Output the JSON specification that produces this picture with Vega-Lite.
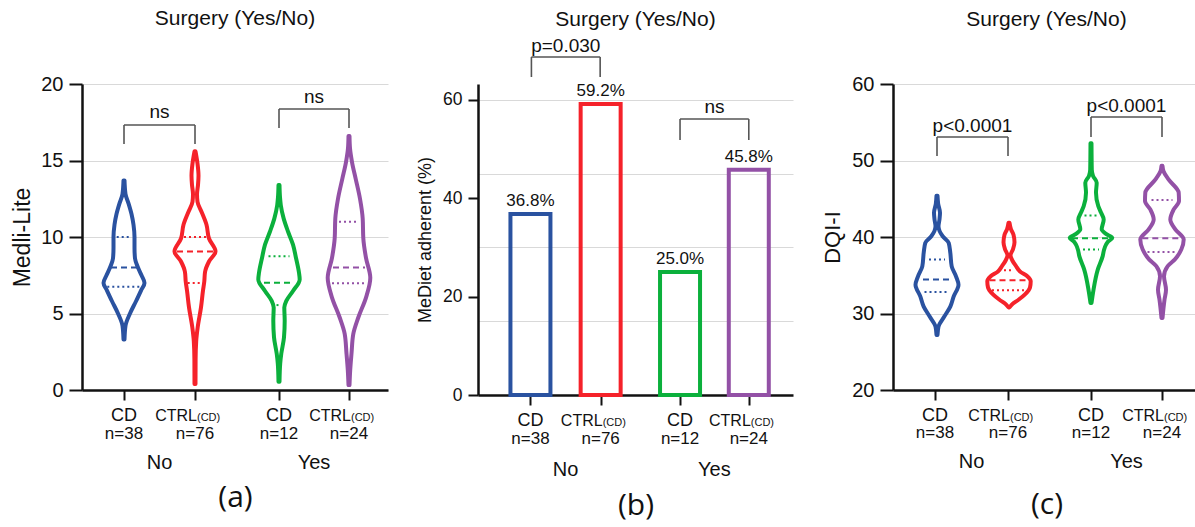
{
"$schema": "https://vega.github.io/schema/vega-lite/v6.json",
"padding": {"left": 11, "top": 8, "right": 0, "bottom": 10},
"spacing": 28,
"config": {
  "view": {"stroke": null},
  "font": "Liberation Sans",
  "title": {"fontSize": 21, "fontWeight": "normal", "font": "Liberation Sans", "color": "#111", "anchor": "middle", "frame": "group"},
  "axis": {"domainColor": "#111", "domainWidth": 2.5, "tickColor": "#111", "tickWidth": 2, "labelColor": "#111", "titleColor": "#111", "titleFontWeight": "normal", "gridColor": "#d9d9d9", "gridWidth": 1, "labelFont": "Liberation Sans", "titleFont": "Liberation Sans"},
  "text": {"color": "#111", "font": "Liberation Sans"}
},
"datasets": {
  "violin": [
    {"p":"a","g":"CD-No","v":3.3,"xl":41.5,"xr":42.5},{"p":"a","g":"CD-No","v":4.2,"xl":40.5,"xr":43.5},{"p":"a","g":"CD-No","v":5.0,"xl":36,"xr":48},{"p":"a","g":"CD-No","v":5.8,"xl":30,"xr":54},{"p":"a","g":"CD-No","v":6.5,"xl":25,"xr":59},{"p":"a","g":"CD-No","v":7.0,"xl":21.5,"xr":62.5},{"p":"a","g":"CD-No","v":7.5,"xl":24.5,"xr":59.5},{"p":"a","g":"CD-No","v":8.0,"xl":28,"xr":56},{"p":"a","g":"CD-No","v":8.6,"xl":31,"xr":53},{"p":"a","g":"CD-No","v":9.3,"xl":31.5,"xr":52.5},{"p":"a","g":"CD-No","v":10.0,"xl":31.5,"xr":52.5},{"p":"a","g":"CD-No","v":10.8,"xl":32.5,"xr":51.5},{"p":"a","g":"CD-No","v":11.5,"xl":34.5,"xr":49.5},{"p":"a","g":"CD-No","v":12.2,"xl":37.5,"xr":46.5},{"p":"a","g":"CD-No","v":12.8,"xl":40.5,"xr":43.5},{"p":"a","g":"CD-No","v":13.7,"xl":41.5,"xr":42.5},
    {"p":"a","g":"CTRL-No","v":0.4,"xl":112.5,"xr":113.5},{"p":"a","g":"CTRL-No","v":2.0,"xl":112.4,"xr":113.6},{"p":"a","g":"CTRL-No","v":3.2,"xl":111.8,"xr":114.2},{"p":"a","g":"CTRL-No","v":4.1,"xl":110.3,"xr":115.7},{"p":"a","g":"CTRL-No","v":5.4,"xl":107,"xr":119},{"p":"a","g":"CTRL-No","v":6.5,"xl":105,"xr":121},{"p":"a","g":"CTRL-No","v":7.1,"xl":103.7,"xr":122.3},{"p":"a","g":"CTRL-No","v":7.7,"xl":103,"xr":123},{"p":"a","g":"CTRL-No","v":8.4,"xl":99,"xr":127},{"p":"a","g":"CTRL-No","v":9.06,"xl":92.5,"xr":133.5},{"p":"a","g":"CTRL-No","v":9.9,"xl":99,"xr":127},{"p":"a","g":"CTRL-No","v":10.8,"xl":101.5,"xr":124.5},{"p":"a","g":"CTRL-No","v":11.65,"xl":106.5,"xr":119.5},{"p":"a","g":"CTRL-No","v":12.3,"xl":110.5,"xr":115.5},{"p":"a","g":"CTRL-No","v":12.8,"xl":111,"xr":115},{"p":"a","g":"CTRL-No","v":13.4,"xl":110,"xr":116},{"p":"a","g":"CTRL-No","v":14.0,"xl":109.5,"xr":116.5},{"p":"a","g":"CTRL-No","v":14.8,"xl":110.5,"xr":115.5},{"p":"a","g":"CTRL-No","v":15.6,"xl":112.5,"xr":113.5},
    {"p":"a","g":"CD-Yes","v":0.54,"xl":196.5,"xr":197.5},{"p":"a","g":"CD-Yes","v":1.73,"xl":195.8,"xr":198.2},{"p":"a","g":"CD-Yes","v":2.38,"xl":194.7,"xr":199.3},{"p":"a","g":"CD-Yes","v":3.45,"xl":192,"xr":202},{"p":"a","g":"CD-Yes","v":4.53,"xl":191.3,"xr":202.7},{"p":"a","g":"CD-Yes","v":5.39,"xl":191.7,"xr":202.3},{"p":"a","g":"CD-Yes","v":5.83,"xl":189.7,"xr":204.3},{"p":"a","g":"CD-Yes","v":6.47,"xl":183,"xr":211},{"p":"a","g":"CD-Yes","v":7.23,"xl":176.3,"xr":217.7},{"p":"a","g":"CD-Yes","v":7.66,"xl":177,"xr":217},{"p":"a","g":"CD-Yes","v":8.63,"xl":180,"xr":214},{"p":"a","g":"CD-Yes","v":9.5,"xl":183,"xr":211},{"p":"a","g":"CD-Yes","v":10.36,"xl":188,"xr":206},{"p":"a","g":"CD-Yes","v":11.2,"xl":192.3,"xr":201.7},{"p":"a","g":"CD-Yes","v":12.08,"xl":195.2,"xr":198.8},{"p":"a","g":"CD-Yes","v":12.6,"xl":196,"xr":198},{"p":"a","g":"CD-Yes","v":13.4,"xl":196.5,"xr":197.5},
    {"p":"a","g":"CTRL-Yes","v":0.32,"xl":266.5,"xr":267.5},{"p":"a","g":"CTRL-Yes","v":1.3,"xl":265.8,"xr":268.2},{"p":"a","g":"CTRL-Yes","v":2.38,"xl":264.5,"xr":269.5},{"p":"a","g":"CTRL-Yes","v":3.67,"xl":262.7,"xr":271.3},{"p":"a","g":"CTRL-Yes","v":4.74,"xl":257.7,"xr":276.3},{"p":"a","g":"CTRL-Yes","v":6.04,"xl":250,"xr":284},{"p":"a","g":"CTRL-Yes","v":7.33,"xl":245.7,"xr":288.3},{"p":"a","g":"CTRL-Yes","v":8.63,"xl":250,"xr":284},{"p":"a","g":"CTRL-Yes","v":9.92,"xl":252.7,"xr":281.3},{"p":"a","g":"CTRL-Yes","v":11.2,"xl":253.3,"xr":280.7},{"p":"a","g":"CTRL-Yes","v":12.5,"xl":256,"xr":278},{"p":"a","g":"CTRL-Yes","v":13.8,"xl":260.3,"xr":273.7},{"p":"a","g":"CTRL-Yes","v":14.9,"xl":264,"xr":270},{"p":"a","g":"CTRL-Yes","v":15.8,"xl":266,"xr":268},{"p":"a","g":"CTRL-Yes","v":16.6,"xl":266.5,"xr":267.5},
    {"p":"c","g":"CD-No","v":27.2,"xl":43.5,"xr":44.5},{"p":"c","g":"CD-No","v":28.3,"xl":42.5,"xr":45.5},{"p":"c","g":"CD-No","v":29.6,"xl":36.7,"xr":51.3},{"p":"c","g":"CD-No","v":30.9,"xl":30.7,"xr":57.3},{"p":"c","g":"CD-No","v":32.24,"xl":27.3,"xr":60.7},{"p":"c","g":"CD-No","v":33.77,"xl":22.5,"xr":65.5},{"p":"c","g":"CD-No","v":34.86,"xl":25,"xr":63},{"p":"c","g":"CD-No","v":36.17,"xl":29.3,"xr":58.7},{"p":"c","g":"CD-No","v":37.93,"xl":30.7,"xr":57.3},{"p":"c","g":"CD-No","v":39.24,"xl":32.3,"xr":55.7},{"p":"c","g":"CD-No","v":40.1,"xl":38.3,"xr":49.7},{"p":"c","g":"CD-No","v":40.8,"xl":41.5,"xr":46.5},{"p":"c","g":"CD-No","v":41.4,"xl":42.5,"xr":45.5},{"p":"c","g":"CD-No","v":42.3,"xl":41.5,"xr":46.5},{"p":"c","g":"CD-No","v":43.17,"xl":41,"xr":47},{"p":"c","g":"CD-No","v":44.3,"xl":42.8,"xr":45.2},{"p":"c","g":"CD-No","v":45.4,"xl":43.5,"xr":44.5},
    {"p":"c","g":"CTRL-No","v":30.8,"xl":115.5,"xr":116.5},{"p":"c","g":"CTRL-No","v":31.3,"xl":112,"xr":120},{"p":"c","g":"CTRL-No","v":31.8,"xl":106.5,"xr":125.5},{"p":"c","g":"CTRL-No","v":32.5,"xl":100,"xr":132},{"p":"c","g":"CTRL-No","v":33.4,"xl":95,"xr":137},{"p":"c","g":"CTRL-No","v":34.2,"xl":94.3,"xr":137.7},{"p":"c","g":"CTRL-No","v":34.86,"xl":97.7,"xr":134.3},{"p":"c","g":"CTRL-No","v":35.5,"xl":105,"xr":127},{"p":"c","g":"CTRL-No","v":36.2,"xl":109,"xr":123},{"p":"c","g":"CTRL-No","v":36.9,"xl":112.5,"xr":119.5},{"p":"c","g":"CTRL-No","v":37.6,"xl":114.5,"xr":117.5},{"p":"c","g":"CTRL-No","v":38.4,"xl":112,"xr":120},{"p":"c","g":"CTRL-No","v":39.3,"xl":110.5,"xr":121.5},{"p":"c","g":"CTRL-No","v":40.3,"xl":111.5,"xr":120.5},{"p":"c","g":"CTRL-No","v":41.0,"xl":114,"xr":118},{"p":"c","g":"CTRL-No","v":41.86,"xl":115.5,"xr":116.5},
    {"p":"c","g":"CD-Yes","v":31.37,"xl":197.5,"xr":198.5},{"p":"c","g":"CD-Yes","v":33.1,"xl":195.5,"xr":200.5},{"p":"c","g":"CD-Yes","v":35.7,"xl":191.3,"xr":204.7},{"p":"c","g":"CD-Yes","v":37.5,"xl":186.3,"xr":209.7},{"p":"c","g":"CD-Yes","v":38.3,"xl":185,"xr":211},{"p":"c","g":"CD-Yes","v":39.0,"xl":183,"xr":213},{"p":"c","g":"CD-Yes","v":39.4,"xl":181,"xr":215},{"p":"c","g":"CD-Yes","v":39.89,"xl":176.7,"xr":219.3},{"p":"c","g":"CD-Yes","v":40.4,"xl":183,"xr":213},{"p":"c","g":"CD-Yes","v":41.0,"xl":187.3,"xr":208.7},{"p":"c","g":"CD-Yes","v":42.3,"xl":185.3,"xr":210.7},{"p":"c","g":"CD-Yes","v":43.2,"xl":188,"xr":208},{"p":"c","g":"CD-Yes","v":44.04,"xl":190.7,"xr":205.3},{"p":"c","g":"CD-Yes","v":45.8,"xl":193,"xr":203},{"p":"c","g":"CD-Yes","v":47.1,"xl":192.3,"xr":203.7},{"p":"c","g":"CD-Yes","v":48.0,"xl":196,"xr":200},{"p":"c","g":"CD-Yes","v":48.8,"xl":197.2,"xr":198.8},{"p":"c","g":"CD-Yes","v":52.26,"xl":197.5,"xr":198.5},
    {"p":"c","g":"CTRL-Yes","v":29.4,"xl":268.5,"xr":269.5},{"p":"c","g":"CTRL-Yes","v":31.8,"xl":266.5,"xr":271.5},{"p":"c","g":"CTRL-Yes","v":33.1,"xl":265,"xr":273},{"p":"c","g":"CTRL-Yes","v":34.86,"xl":267,"xr":271},{"p":"c","g":"CTRL-Yes","v":36.2,"xl":263.3,"xr":274.7},{"p":"c","g":"CTRL-Yes","v":37.05,"xl":256.3,"xr":281.7},{"p":"c","g":"CTRL-Yes","v":38.36,"xl":249.7,"xr":288.3},{"p":"c","g":"CTRL-Yes","v":39.67,"xl":247.3,"xr":290.7},{"p":"c","g":"CTRL-Yes","v":41.0,"xl":255.7,"xr":282.3},{"p":"c","g":"CTRL-Yes","v":42.3,"xl":260.7,"xr":277.3},{"p":"c","g":"CTRL-Yes","v":43.6,"xl":257.3,"xr":280.7},{"p":"c","g":"CTRL-Yes","v":44.7,"xl":252,"xr":286},{"p":"c","g":"CTRL-Yes","v":45.8,"xl":252.3,"xr":285.7},{"p":"c","g":"CTRL-Yes","v":47.5,"xl":262.3,"xr":275.7},{"p":"c","g":"CTRL-Yes","v":48.6,"xl":267.5,"xr":270.5},{"p":"c","g":"CTRL-Yes","v":49.3,"xl":268.5,"xr":269.5}
  ],
  "quart": [
    {"p":"a","g":"CD-No","v":10.0,"xl":34.7,"xr":49.3,"k":"q"},{"p":"a","g":"CD-No","v":8.0,"xl":29,"xr":55,"k":"m"},{"p":"a","g":"CD-No","v":6.75,"xl":25.3,"xr":58.7,"k":"q"},
    {"p":"a","g":"CTRL-No","v":10.0,"xl":102,"xr":124,"k":"q"},{"p":"a","g":"CTRL-No","v":9.06,"xl":95,"xr":131,"k":"m"},{"p":"a","g":"CTRL-No","v":7.0,"xl":105.7,"xr":120.3,"k":"q"},
    {"p":"a","g":"CD-Yes","v":8.74,"xl":186.5,"xr":207.5,"k":"q"},{"p":"a","g":"CD-Yes","v":7.01,"xl":182,"xr":212,"k":"m"},{"p":"a","g":"CD-Yes","v":5.55,"xl":194.5,"xr":199.5,"k":"q"},
    {"p":"a","g":"CTRL-Yes","v":11.0,"xl":257,"xr":277,"k":"q"},{"p":"a","g":"CTRL-Yes","v":8.0,"xl":251,"xr":283,"k":"m"},{"p":"a","g":"CTRL-Yes","v":6.97,"xl":250,"xr":284,"k":"q"},
    {"p":"c","g":"CD-No","v":37.05,"xl":36,"xr":52,"k":"q"},{"p":"c","g":"CD-No","v":34.43,"xl":30,"xr":58,"k":"m"},{"p":"c","g":"CD-No","v":32.8,"xl":31.5,"xr":56.5,"k":"q"},
    {"p":"c","g":"CTRL-No","v":35.65,"xl":111,"xr":121,"k":"q"},{"p":"c","g":"CTRL-No","v":34.35,"xl":96.5,"xr":135.5,"k":"m"},{"p":"c","g":"CTRL-No","v":33.05,"xl":99,"xr":133,"k":"q"},
    {"p":"c","g":"CD-Yes","v":42.8,"xl":191.5,"xr":204.5,"k":"q"},{"p":"c","g":"CD-Yes","v":39.84,"xl":179,"xr":217,"k":"m"},{"p":"c","g":"CD-Yes","v":38.36,"xl":190,"xr":206,"k":"q"},
    {"p":"c","g":"CTRL-Yes","v":44.83,"xl":258.5,"xr":279.5,"k":"q"},{"p":"c","g":"CTRL-Yes","v":39.84,"xl":249.3,"xr":288.7,"k":"m"},{"p":"c","g":"CTRL-Yes","v":38.05,"xl":254.5,"xr":283.5,"k":"q"}
  ],
  "bars": [
    {"g":"CD-No","x":49,"val":36.8,"lab":"36.8%"},
    {"g":"CTRL-No","x":121.5,"val":59.2,"lab":"59.2%"},
    {"g":"CD-Yes","x":203.5,"val":25.0,"lab":"25.0%"},
    {"g":"CTRL-Yes","x":274.5,"val":45.8,"lab":"45.8%"}
  ],
  "brack": [
    {"p":"a","xa":42,"xb":113,"yt":17.32,"yb":16.08,"ytx":17.76,"xm":77.5,"lab":"ns"},
    {"p":"a","xa":197,"xb":267,"yt":18.37,"yb":17.12,"ytx":18.74,"xm":232,"lab":"ns"},
    {"p":"b","xa":50,"xb":121,"yt":68.74,"yb":64.67,"ytx":69.83,"xm":85.5,"lab":"p=0.030"},
    {"p":"b","xa":203.5,"xb":274.5,"yt":56.13,"yb":51.86,"ytx":57.29,"xm":239,"lab":"ns"},
    {"p":"c","xa":44,"xb":115,"yt":53.07,"yb":50.59,"ytx":53.76,"xm":79.5,"lab":"p<0.0001"},
    {"p":"c","xa":198,"xb":269,"yt":55.69,"yb":53.07,"ytx":56.38,"xm":233.5,"lab":"p<0.0001"}
  ],
  "xlab": [
    {"p":"a","cat":"CD","sub":"","n":"n=38","x":42},{"p":"a","cat":"CTRL","sub":"(CD)","n":"n=76","x":113},{"p":"a","cat":"CD","sub":"","n":"n=12","x":197},{"p":"a","cat":"CTRL","sub":"(CD)","n":"n=24","x":267},
    {"p":"b","cat":"CD","sub":"","n":"n=38","x":49},{"p":"b","cat":"CTRL","sub":"(CD)","n":"n=76","x":121.5},{"p":"b","cat":"CD","sub":"","n":"n=12","x":203.5},{"p":"b","cat":"CTRL","sub":"(CD)","n":"n=24","x":274.5},
    {"p":"c","cat":"CD","sub":"","n":"n=38","x":42},{"p":"c","cat":"CTRL","sub":"(CD)","n":"n=76","x":115},{"p":"c","cat":"CD","sub":"","n":"n=12","x":198},{"p":"c","cat":"CTRL","sub":"(CD)","n":"n=24","x":269}
  ],
  "grp": [
    {"p":"a","lab":"No","x":77.5},{"p":"a","lab":"Yes","x":232},
    {"p":"b","lab":"No","x":85.25},{"p":"b","lab":"Yes","x":239},
    {"p":"c","lab":"No","x":78.5},{"p":"c","lab":"Yes","x":233.5}
  ]
},
"hconcat": [
  {
    "width": 306, "height": 306,
    "title": {"text": "Surgery (Yes/No)", "offset": 45},
    "resolve": {"axis": {"x": "independent", "y": "independent"}},
    "layer": [
      {"data": {"name": "violin"}, "transform": [{"filter": "datum.p === 'a'"}],
       "mark": {"type": "area", "orient": "horizontal", "interpolate": "monotone", "fillOpacity": 0, "strokeWidth": 4, "strokeJoin": "round"},
       "encoding": {
         "y": {"field": "v", "type": "quantitative", "scale": {"domain": [0, 20]}, "axis": {"orient": "left", "values": [0,5,10,15,20], "title": "Medli-Lite", "titleFontSize": 23, "labelFontSize": 20, "tickSize": 13, "labelPadding": 6, "titlePadding": 6, "grid": true}},
         "x": {"field": "xl", "type": "quantitative", "scale": {"domain": [0, 306]}, "axis": {"orient": "bottom", "values": [42,113,197,267], "labels": false, "grid": false, "tickSize": 10, "title": "(a)", "titlePadding": 81, "titleFont": "Open Sans", "titleFontSize": 30}},
         "x2": {"field": "xr"},
         "stroke": {"field": "g", "type": "nominal", "scale": {"domain": ["CD-No","CTRL-No","CD-Yes","CTRL-Yes"], "range": ["#2a52a0","#f5222a","#0bb03c","#9351a6"]}, "legend": null}
       }},
      {"data": {"name": "quart"}, "transform": [{"filter": "datum.p === 'a'"}],
       "mark": {"type": "rule", "strokeWidth": 2},
       "encoding": {
         "y": {"field": "v", "type": "quantitative", "scale": {"domain": [0, 20]}, "axis": null},
         "x": {"field": "xl", "type": "quantitative", "scale": {"domain": [0, 306]}, "axis": null},
         "x2": {"field": "xr"},
         "stroke": {"field": "g", "type": "nominal", "scale": {"domain": ["CD-No","CTRL-No","CD-Yes","CTRL-Yes"], "range": ["#2a52a0","#f5222a","#0bb03c","#9351a6"]}, "legend": null},
         "strokeDash": {"field": "k", "type": "nominal", "scale": {"domain": ["q","m"], "range": [[2,3],[6,4]]}, "legend": null}
       }},
      {"data": {"name": "brack"}, "transform": [{"filter": "datum.p === 'a'"}],
       "mark": {"type": "rule", "stroke": "#555", "strokeWidth": 1.6},
       "encoding": {"x": {"field": "xa", "type": "quantitative", "scale": {"domain": [0, 306]}, "axis": null}, "x2": {"field": "xb"}, "y": {"field": "yt", "type": "quantitative", "scale": {"domain": [0, 20]}, "axis": null}}},
      {"data": {"name": "brack"}, "transform": [{"filter": "datum.p === 'a'"}],
       "mark": {"type": "rule", "stroke": "#555", "strokeWidth": 1.6},
       "encoding": {"x": {"field": "xa", "type": "quantitative", "scale": {"domain": [0, 306]}, "axis": null}, "y": {"field": "yt", "type": "quantitative", "scale": {"domain": [0, 20]}, "axis": null}, "y2": {"field": "yb"}}},
      {"data": {"name": "brack"}, "transform": [{"filter": "datum.p === 'a'"}],
       "mark": {"type": "rule", "stroke": "#555", "strokeWidth": 1.6},
       "encoding": {"x": {"field": "xb", "type": "quantitative", "scale": {"domain": [0, 306]}, "axis": null}, "y": {"field": "yt", "type": "quantitative", "scale": {"domain": [0, 20]}, "axis": null}, "y2": {"field": "yb"}}},
      {"data": {"name": "brack"}, "transform": [{"filter": "datum.p === 'a'"}],
       "mark": {"type": "text", "fontSize": 19, "baseline": "alphabetic"},
       "encoding": {"x": {"field": "xm", "type": "quantitative", "scale": {"domain": [0, 306]}, "axis": null}, "y": {"field": "ytx", "type": "quantitative", "scale": {"domain": [0, 20]}, "axis": null}, "text": {"field": "lab"}}},
      {"data": {"name": "xlab"}, "transform": [{"filter": "datum.p === 'a' && datum.cat === 'CD'"}],
       "mark": {"type": "text", "fontSize": 18, "baseline": "alphabetic"},
       "encoding": {"x": {"field": "x", "type": "quantitative", "scale": {"domain": [0, 306]}, "axis": null}, "y": {"datum": -2.02, "type": "quantitative", "scale": {"domain": [0, 20]}, "axis": null}, "text": {"field": "cat"}}},
      {"data": {"name": "xlab"}, "transform": [{"filter": "datum.p === 'a' && datum.cat === 'CTRL'"}],
       "mark": {"type": "text", "fontSize": 16, "baseline": "alphabetic", "align": "right", "dx": 2},
       "encoding": {"x": {"field": "x", "type": "quantitative", "scale": {"domain": [0, 306]}, "axis": null}, "y": {"datum": -2.02, "type": "quantitative", "scale": {"domain": [0, 20]}, "axis": null}, "text": {"field": "cat"}}},
      {"data": {"name": "xlab"}, "transform": [{"filter": "datum.p === 'a' && datum.cat === 'CTRL'"}],
       "mark": {"type": "text", "fontSize": 11, "baseline": "alphabetic", "align": "left", "dx": 2},
       "encoding": {"x": {"field": "x", "type": "quantitative", "scale": {"domain": [0, 306]}, "axis": null}, "y": {"datum": -2.02, "type": "quantitative", "scale": {"domain": [0, 20]}, "axis": null}, "text": {"field": "sub"}}},
      {"data": {"name": "xlab"}, "transform": [{"filter": "datum.p === 'a'"}],
       "mark": {"type": "text", "fontSize": 17, "baseline": "alphabetic"},
       "encoding": {"x": {"field": "x", "type": "quantitative", "scale": {"domain": [0, 306]}, "axis": null}, "y": {"datum": -3.18, "type": "quantitative", "scale": {"domain": [0, 20]}, "axis": null}, "text": {"field": "n"}}},
      {"data": {"name": "grp"}, "transform": [{"filter": "datum.p === 'a'"}],
       "mark": {"type": "text", "fontSize": 20, "baseline": "alphabetic"},
       "encoding": {"x": {"field": "x", "type": "quantitative", "scale": {"domain": [0, 306]}, "axis": null}, "y": {"datum": -5.16, "type": "quantitative", "scale": {"domain": [0, 20]}, "axis": null}, "text": {"field": "lab"}}}
    ]
  },
  {
    "width": 315, "height": 311,
    "title": {"text": "Surgery (Yes/No)", "offset": 7},
    "resolve": {"axis": {"x": "independent", "y": "independent"}},
    "layer": [
      {"data": {"name": "bars"},
       "mark": {"type": "bar", "orient": "vertical", "width": 40, "fillOpacity": 0, "strokeWidth": 4},
       "encoding": {
         "x": {"field": "x", "type": "quantitative", "scale": {"domain": [0, 315]}, "axis": {"orient": "bottom", "values": [49,121.5,203.5,274.5], "labels": false, "grid": false, "tickSize": 10, "title": "(b)", "titlePadding": 84, "titleFont": "Open Sans", "titleFontSize": 30}},
         "y": {"field": "val", "type": "quantitative", "scale": {"domain": [0, 63.25]}, "axis": {"orient": "left", "values": [15,30,45,60], "grid": true, "labels": false, "ticks": false, "domain": false, "title": null}},
         "stroke": {"field": "g", "type": "nominal", "scale": {"domain": ["CD-No","CTRL-No","CD-Yes","CTRL-Yes"], "range": ["#2a52a0","#f5222a","#0bb03c","#9351a6"]}, "legend": null}
       }},
      {"data": {"name": "bars"},
       "mark": {"type": "text", "fontSize": 17, "baseline": "alphabetic", "dy": -8},
       "encoding": {
         "x": {"field": "x", "type": "quantitative", "scale": {"domain": [0, 315]}, "axis": null},
         "y": {"field": "val", "type": "quantitative", "scale": {"domain": [0, 63.25]}, "axis": {"orient": "left", "values": [0,20,40,60], "grid": false, "title": "MeDiet adherent (%)", "titleFontSize": 18, "labelFontSize": 17.5, "tickSize": 10, "labelPadding": 6, "titlePadding": 8}},
         "text": {"field": "lab"}
       }},
      {"data": {"name": "brack"}, "transform": [{"filter": "datum.p === 'b'"}],
       "mark": {"type": "rule", "stroke": "#555", "strokeWidth": 1.6},
       "encoding": {"x": {"field": "xa", "type": "quantitative", "scale": {"domain": [0, 315]}, "axis": null}, "x2": {"field": "xb"}, "y": {"field": "yt", "type": "quantitative", "scale": {"domain": [0, 63.25]}, "axis": null}}},
      {"data": {"name": "brack"}, "transform": [{"filter": "datum.p === 'b'"}],
       "mark": {"type": "rule", "stroke": "#555", "strokeWidth": 1.6},
       "encoding": {"x": {"field": "xa", "type": "quantitative", "scale": {"domain": [0, 315]}, "axis": null}, "y": {"field": "yt", "type": "quantitative", "scale": {"domain": [0, 63.25]}, "axis": null}, "y2": {"field": "yb"}}},
      {"data": {"name": "brack"}, "transform": [{"filter": "datum.p === 'b'"}],
       "mark": {"type": "rule", "stroke": "#555", "strokeWidth": 1.6},
       "encoding": {"x": {"field": "xb", "type": "quantitative", "scale": {"domain": [0, 315]}, "axis": null}, "y": {"field": "yt", "type": "quantitative", "scale": {"domain": [0, 63.25]}, "axis": null}, "y2": {"field": "yb"}}},
      {"data": {"name": "brack"}, "transform": [{"filter": "datum.p === 'b'"}],
       "mark": {"type": "text", "fontSize": 19, "baseline": "alphabetic"},
       "encoding": {"x": {"field": "xm", "type": "quantitative", "scale": {"domain": [0, 315]}, "axis": null}, "y": {"field": "ytx", "type": "quantitative", "scale": {"domain": [0, 63.25]}, "axis": null}, "text": {"field": "lab"}}},
      {"data": {"name": "xlab"}, "transform": [{"filter": "datum.p === 'b' && datum.cat === 'CD'"}],
       "mark": {"type": "text", "fontSize": 18, "baseline": "alphabetic"},
       "encoding": {"x": {"field": "x", "type": "quantitative", "scale": {"domain": [0, 315]}, "axis": null}, "y": {"datum": -6.3, "type": "quantitative", "scale": {"domain": [0, 63.25]}, "axis": null}, "text": {"field": "cat"}}},
      {"data": {"name": "xlab"}, "transform": [{"filter": "datum.p === 'b' && datum.cat === 'CTRL'"}],
       "mark": {"type": "text", "fontSize": 16, "baseline": "alphabetic", "align": "right", "dx": 2},
       "encoding": {"x": {"field": "x", "type": "quantitative", "scale": {"domain": [0, 315]}, "axis": null}, "y": {"datum": -6.3, "type": "quantitative", "scale": {"domain": [0, 63.25]}, "axis": null}, "text": {"field": "cat"}}},
      {"data": {"name": "xlab"}, "transform": [{"filter": "datum.p === 'b' && datum.cat === 'CTRL'"}],
       "mark": {"type": "text", "fontSize": 11, "baseline": "alphabetic", "align": "left", "dx": 2},
       "encoding": {"x": {"field": "x", "type": "quantitative", "scale": {"domain": [0, 315]}, "axis": null}, "y": {"datum": -6.3, "type": "quantitative", "scale": {"domain": [0, 63.25]}, "axis": null}, "text": {"field": "sub"}}},
      {"data": {"name": "xlab"}, "transform": [{"filter": "datum.p === 'b'"}],
       "mark": {"type": "text", "fontSize": 17, "baseline": "alphabetic"},
       "encoding": {"x": {"field": "x", "type": "quantitative", "scale": {"domain": [0, 315]}, "axis": null}, "y": {"datum": -9.9, "type": "quantitative", "scale": {"domain": [0, 63.25]}, "axis": null}, "text": {"field": "n"}}},
      {"data": {"name": "grp"}, "transform": [{"filter": "datum.p === 'b'"}],
       "mark": {"type": "text", "fontSize": 20, "baseline": "alphabetic"},
       "encoding": {"x": {"field": "x", "type": "quantitative", "scale": {"domain": [0, 315]}, "axis": null}, "y": {"datum": -16.47, "type": "quantitative", "scale": {"domain": [0, 63.25]}, "axis": null}, "text": {"field": "lab"}}}
    ]
  },
  {
    "width": 307, "height": 306,
    "title": {"text": "Surgery (Yes/No)", "offset": 44},
    "resolve": {"axis": {"x": "independent", "y": "independent"}},
    "layer": [
      {"data": {"name": "violin"}, "transform": [{"filter": "datum.p === 'c'"}],
       "mark": {"type": "area", "orient": "horizontal", "interpolate": "monotone", "fillOpacity": 0, "strokeWidth": 4, "strokeJoin": "round"},
       "encoding": {
         "y": {"field": "v", "type": "quantitative", "scale": {"domain": [20, 60]}, "axis": {"orient": "left", "values": [20,30,40,50,60], "title": "DQI-I", "titleFontSize": 22, "labelFontSize": 20, "tickSize": 13, "labelPadding": 6, "titlePadding": 7, "grid": true}},
         "x": {"field": "xl", "type": "quantitative", "scale": {"domain": [0, 307]}, "axis": {"orient": "bottom", "values": [42,115,198,269], "labels": false, "grid": false, "tickSize": 10, "title": "(c)", "titlePadding": 88, "titleFont": "Open Sans", "titleFontSize": 30}},
         "x2": {"field": "xr"},
         "stroke": {"field": "g", "type": "nominal", "scale": {"domain": ["CD-No","CTRL-No","CD-Yes","CTRL-Yes"], "range": ["#2a52a0","#f5222a","#0bb03c","#9351a6"]}, "legend": null}
       }},
      {"data": {"name": "quart"}, "transform": [{"filter": "datum.p === 'c'"}],
       "mark": {"type": "rule", "strokeWidth": 2},
       "encoding": {
         "y": {"field": "v", "type": "quantitative", "scale": {"domain": [20, 60]}, "axis": null},
         "x": {"field": "xl", "type": "quantitative", "scale": {"domain": [0, 307]}, "axis": null},
         "x2": {"field": "xr"},
         "stroke": {"field": "g", "type": "nominal", "scale": {"domain": ["CD-No","CTRL-No","CD-Yes","CTRL-Yes"], "range": ["#2a52a0","#f5222a","#0bb03c","#9351a6"]}, "legend": null},
         "strokeDash": {"field": "k", "type": "nominal", "scale": {"domain": ["q","m"], "range": [[2,3],[6,4]]}, "legend": null}
       }},
      {"data": {"name": "brack"}, "transform": [{"filter": "datum.p === 'c'"}],
       "mark": {"type": "rule", "stroke": "#555", "strokeWidth": 1.6},
       "encoding": {"x": {"field": "xa", "type": "quantitative", "scale": {"domain": [0, 307]}, "axis": null}, "x2": {"field": "xb"}, "y": {"field": "yt", "type": "quantitative", "scale": {"domain": [20, 60]}, "axis": null}}},
      {"data": {"name": "brack"}, "transform": [{"filter": "datum.p === 'c'"}],
       "mark": {"type": "rule", "stroke": "#555", "strokeWidth": 1.6},
       "encoding": {"x": {"field": "xa", "type": "quantitative", "scale": {"domain": [0, 307]}, "axis": null}, "y": {"field": "yt", "type": "quantitative", "scale": {"domain": [20, 60]}, "axis": null}, "y2": {"field": "yb"}}},
      {"data": {"name": "brack"}, "transform": [{"filter": "datum.p === 'c'"}],
       "mark": {"type": "rule", "stroke": "#555", "strokeWidth": 1.6},
       "encoding": {"x": {"field": "xb", "type": "quantitative", "scale": {"domain": [0, 307]}, "axis": null}, "y": {"field": "yt", "type": "quantitative", "scale": {"domain": [20, 60]}, "axis": null}, "y2": {"field": "yb"}}},
      {"data": {"name": "brack"}, "transform": [{"filter": "datum.p === 'c'"}],
       "mark": {"type": "text", "fontSize": 19, "baseline": "alphabetic"},
       "encoding": {"x": {"field": "xm", "type": "quantitative", "scale": {"domain": [0, 307]}, "axis": null}, "y": {"field": "ytx", "type": "quantitative", "scale": {"domain": [20, 60]}, "axis": null}, "text": {"field": "lab"}}},
      {"data": {"name": "xlab"}, "transform": [{"filter": "datum.p === 'c' && datum.cat === 'CD'"}],
       "mark": {"type": "text", "fontSize": 18, "baseline": "alphabetic"},
       "encoding": {"x": {"field": "x", "type": "quantitative", "scale": {"domain": [0, 307]}, "axis": null}, "y": {"datum": 15.95, "type": "quantitative", "scale": {"domain": [20, 60]}, "axis": null}, "text": {"field": "cat"}}},
      {"data": {"name": "xlab"}, "transform": [{"filter": "datum.p === 'c' && datum.cat === 'CTRL'"}],
       "mark": {"type": "text", "fontSize": 16, "baseline": "alphabetic", "align": "right", "dx": 2},
       "encoding": {"x": {"field": "x", "type": "quantitative", "scale": {"domain": [0, 307]}, "axis": null}, "y": {"datum": 15.95, "type": "quantitative", "scale": {"domain": [20, 60]}, "axis": null}, "text": {"field": "cat"}}},
      {"data": {"name": "xlab"}, "transform": [{"filter": "datum.p === 'c' && datum.cat === 'CTRL'"}],
       "mark": {"type": "text", "fontSize": 11, "baseline": "alphabetic", "align": "left", "dx": 2},
       "encoding": {"x": {"field": "x", "type": "quantitative", "scale": {"domain": [0, 307]}, "axis": null}, "y": {"datum": 15.95, "type": "quantitative", "scale": {"domain": [20, 60]}, "axis": null}, "text": {"field": "sub"}}},
      {"data": {"name": "xlab"}, "transform": [{"filter": "datum.p === 'c'"}],
       "mark": {"type": "text", "fontSize": 17, "baseline": "alphabetic"},
       "encoding": {"x": {"field": "x", "type": "quantitative", "scale": {"domain": [0, 307]}, "axis": null}, "y": {"datum": 13.67, "type": "quantitative", "scale": {"domain": [20, 60]}, "axis": null}, "text": {"field": "n"}}},
      {"data": {"name": "grp"}, "transform": [{"filter": "datum.p === 'c'"}],
       "mark": {"type": "text", "fontSize": 20, "baseline": "alphabetic"},
       "encoding": {"x": {"field": "x", "type": "quantitative", "scale": {"domain": [0, 307]}, "axis": null}, "y": {"datum": 9.8, "type": "quantitative", "scale": {"domain": [20, 60]}, "axis": null}, "text": {"field": "lab"}}}
    ]
  }
]
}
